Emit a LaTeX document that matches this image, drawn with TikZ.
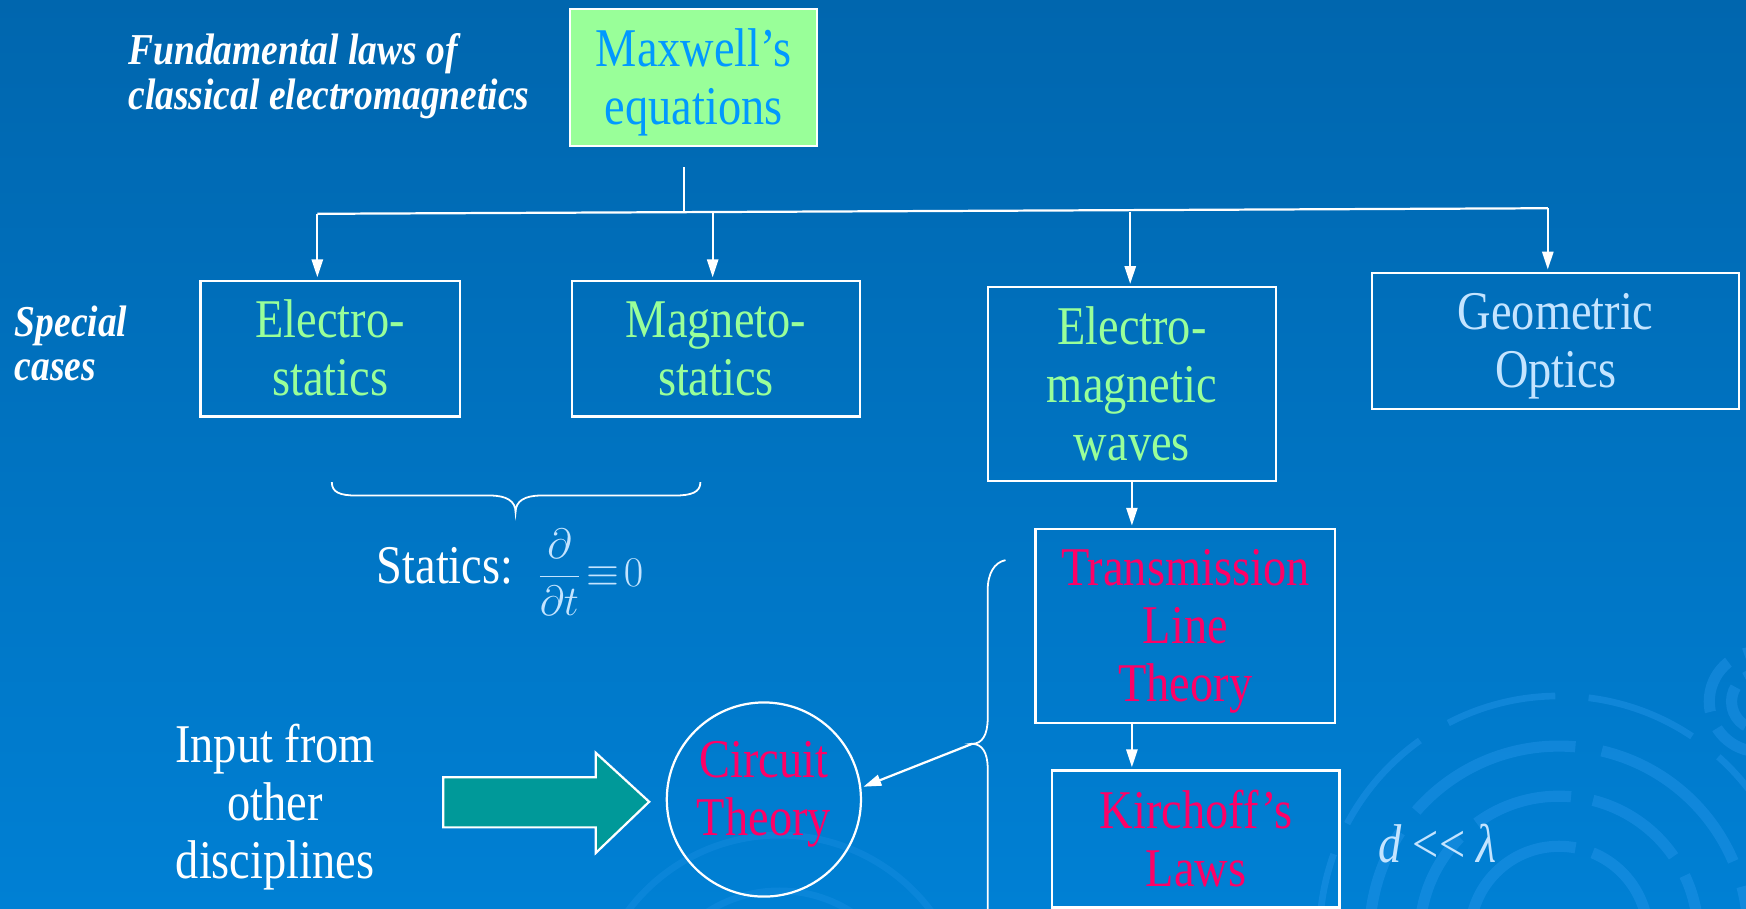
\RequirePackage{fix-cm}
\documentclass[tikz,border=0pt]{standalone}
\usepackage{fontspec}
\setmainfont{Liberation Serif}[FakeStretch=0.85]
\usetikzlibrary{arrows.meta,shapes.geometric}
\definecolor{bgtop}{HTML}{0066AE}
\definecolor{bgbot}{HTML}{0080D4}
\definecolor{lgreen}{HTML}{99FF99}
\definecolor{mblue}{HTML}{0099FF}
\definecolor{lblue}{HTML}{C4E4FF}
\definecolor{mag}{HTML}{FF0066}
\definecolor{tealfill}{HTML}{009999}
\definecolor{swirlc}{HTML}{2A98EC}
\newcommand\bigfont{\fontsize{24.5}{26}\selectfont}
\newcommand\smfont{\fontsize{19.8}{20}\selectfont\bfseries\itshape}
\newcommand\ml[2][5pt]{\rule{0pt}{21.5pt}#2\rule[-#1]{0pt}{#1}}
\newcommand\sml[1]{\rule{0pt}{16.5pt}#1\rule[-4.5pt]{0pt}{4.5pt}}
\begin{document}
\begin{tikzpicture}[x=0.5pt,y=-0.5pt,
  bigtext/.style={font=\bigfont,align=center},
  smtext/.style={font=\smfont,text=white,align=left,anchor=west,inner sep=0pt},
  box/.style={bigtext,draw=white,line width=1pt,inner sep=0pt},
  conn/.style={draw=white,line width=1pt},
  arr/.style={conn,-{Triangle[length=8pt,width=5pt]},shorten >=1pt},
  swirlst/.style={draw=swirlc,line width=5pt,opacity=0.4}]
\useasboundingbox (0,0) rectangle (1568,816);
\shade[top color=bgtop,bottom color=bgbot] (0,0) rectangle (1568,816);
% decorative swirls
\begin{scope}
\clip (0,0) rectangle (1568,816);
\draw[swirlst,dash pattern=on 60pt off 8pt] (1400,840) circle[radius=80];
\draw[swirlst,dash pattern=on 45pt off 10pt,dash phase=20pt] (1400,840) circle[radius=125];
\draw[swirlst,dash pattern=on 80pt off 12pt,dash phase=40pt] (1400,840) circle[radius=170];
\draw[swirlst,line width=3pt,dash pattern=on 50pt off 15pt] (1400,840) circle[radius=215];
\draw[swirlst,dash pattern=on 20pt off 6pt] (1580,630) circle[radius=25];
\draw[swirlst,dash pattern=on 25pt off 8pt] (1580,630) circle[radius=45];
\draw[swirlst,line width=3pt,opacity=0.25] (700,920) circle[radius=120];
\draw[swirlst,line width=3pt,opacity=0.25] (700,920) circle[radius=170];
\end{scope}
% texts at left
\node[smtext] (fl) at (115,66) {\sml{Fundamental laws of\\classical electromagnetics}};
\node[smtext] (sc) at (13,310) {\sml{Special\\cases}};
% boxes
\node[box,fill=lgreen,text=mblue,minimum width=111pt,minimum height=61.5pt] (mx) at (623,69.5) {\ml{Maxwell's\\equations}};
\node[box,text=lgreen,minimum width=116.5pt,minimum height=61pt] (es) at (296.5,313) {\ml{Electro-\\statics}};
\node[box,text=lgreen,minimum width=129pt,minimum height=61pt] (ms) at (643,313) {\ml{Magneto-\\statics}};
\node[box,text=lgreen,minimum width=129.5pt,minimum height=87pt] (em) at (1016.5,345) {\ml{Electro-\\magnetic\\waves}};
\node[box,text=lblue,minimum width=165pt,minimum height=61pt] (go) at (1397,306) {\ml{Geometric\\Optics}};
\node[box,text=mag,minimum width=134.5pt,minimum height=87pt] (tl) at (1064.5,562) {\ml{Transmission\\Line\\Theory}};
\node[box,text=mag,minimum width=129pt,minimum height=61.5pt] (kl) at (1074,753.5) {\ml{Kirchoff's\\Laws}};
\node[bigtext,circle,draw=white,line width=1pt,minimum size=86pt,inner sep=0pt,text=mag] (ct) at (686,718) {\ml[15.5pt]{Circuit\\Theory}};
% tree connectors
\coordinate (t0) at (614,150);
\coordinate (t1) at (614,191);
\coordinate (b1) at (285,192);
\coordinate (b2) at (640,191.5);
\coordinate (b3) at (1015,190);
\coordinate (b4) at (1390,187);
\draw[conn] (t0) -- (t1);
\draw[conn] (b1) -- (b4);
\draw[arr] (b1) -- (b1 |- es.north);
\draw[arr] (b2) -- (b2 |- ms.north);
\draw[arr] (b3) -- (b3 |- em.north);
\draw[arr] (b4) -- (b4 |- go.north);
\draw[arr] (em.south) -- (em.south |- tl.north);
\draw[arr] (em.south |- tl.south) -- (em.south |- kl.north);
% statics brace
\draw[conn,line width=0.8pt] (298,433) .. controls (298,442) and (305,445) .. (320,445) -- (440,445) .. controls (455,445) and (463,450) .. (463,460) .. controls (463,450) and (471,445) .. (486,445) -- (606,445) .. controls (621,445) and (629,442) .. (629,433);
\node[font=\bigfont,text=white,anchor=base west,inner sep=0pt] (st) at (338,524) {Statics:};
\node[font=\fontsize{19}{20}\selectfont,text=lblue,anchor=west,inner sep=0pt] (eq) at (482,514) {$\displaystyle\frac{\partial}{\partial t}\!\equiv\! 0$};
% left brace
\coordinate (btip) at (873,668);
\draw[conn,line width=0.8pt] (903,503) .. controls (893,505) and (887,515) .. (887,530) -- (887,645) .. controls (887,660) and (882,668) .. (btip) .. controls (882,668) and (887,676) .. (887,690) -- (887,830);
\draw[arr] (btip) -- (ct.7);
% block arrow
\draw[white,line width=1pt,fill=tealfill] (398,698) -- (535,698) -- (535,676) -- (583,720) -- (535,766) -- (535,743) -- (398,743) -- cycle;
\node[bigtext,text=white,inner sep=0pt] (inp) at (247,721) {\ml[5.5pt]{Input from\\other\\disciplines}};
\node[font=\bigfont,text=lblue,inner sep=0pt] (dl) at (1291,758) {\itshape d {\upshape {<}{<}} λ};
\end{tikzpicture}
\end{document}
